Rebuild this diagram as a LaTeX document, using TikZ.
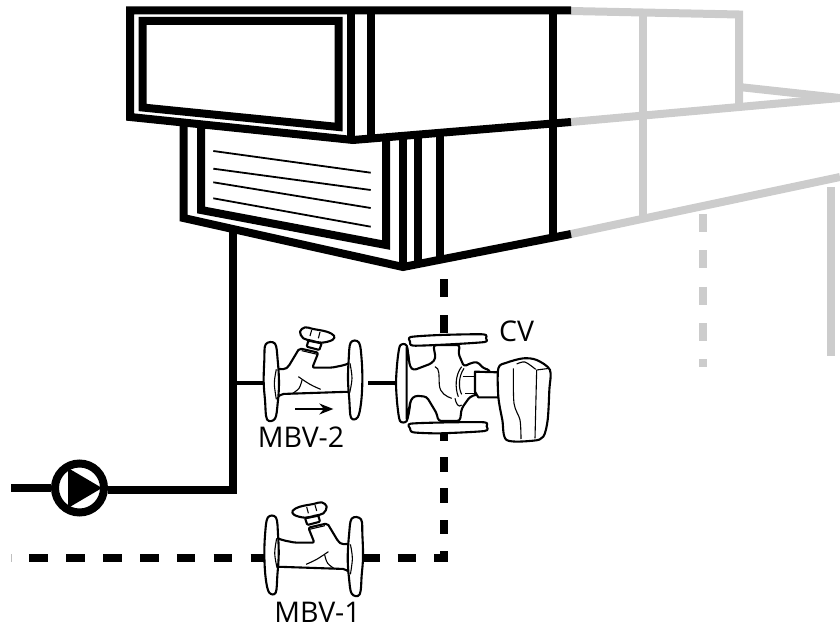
\documentclass[tikz,border=0pt]{standalone}
\usepackage{fontspec}
\setmainfont{Open Sans}
\usetikzlibrary{arrows.meta}
\definecolor{fade}{gray}{0.8}
\tikzset{
  frame/.style={line width=8pt,black,line join=miter},
  ghost/.style={line width=8pt,fade,line join=miter},
  slat/.style={line width=1.8pt,black},
  pipe/.style={line width=8pt,black},
  thinpipe/.style={line width=3.5pt,black},
  part/.style={line width=2.1pt,black,fill=white,line join=round},
  detail/.style={line width=1.1pt,black,line join=round},
  lab/.style={font=\fontsize{28.5}{28.5}\selectfont,inner sep=0pt,text=black},
  zoomed/.style={x=0.33333pt,y=-0.33333pt}
}
% balancing valve, drawn in crop units (3 units = 1 px)
\newcommand{\balvalve}{%
  \draw[part,rounded corners=2pt] (62,146) -- (90,148) -- (100,140) -- (133,85) -- (190,98) -- (172,143) -- (230,143) -- (265,136) -- (288,128) -- (288,215) -- (80,222) -- (62,236) -- cycle;
  \draw[part] plot[smooth cycle,tension=0.6] coordinates {(32,73) (60,71) (68,120) (72,190) (68,250) (60,296) (36,298) (30,240) (26,185) (28,120)};
  \draw[part] plot[smooth cycle,tension=0.6] coordinates {(287,68) (312,68) (320,120) (322,185) (318,250) (308,292) (288,293) (283,240) (279,180) (281,120)};
  \draw[detail] plot[smooth,tension=0.6] coordinates {(64,148) (58,190) (64,238)};
  \draw[detail] plot[smooth,tension=0.6] coordinates {(285,130) (291,175) (284,218)};
  \draw[detail] plot[smooth,tension=0.6] coordinates {(130,170) (165,193) (197,208)};
  \draw[detail] plot[smooth,tension=0.6] coordinates {(141,180) (132,205) (110,222)};
  \draw[part,rounded corners=1pt] (160,62) -- (155,80) -- (193,90) -- (200,70) -- cycle;
  \draw[detail] (140,92) -- (187,103);
  \draw[part] plot[smooth cycle,tension=0.6] coordinates {(135,35) (150,22) (175,27) (215,35) (237,47) (232,60) (200,68) (170,62) (145,55)};
  \draw[detail] (170,30) -- (165,48) (195,36) -- (190,55);
}
\begin{document}
\begin{tikzpicture}[x=1pt,y=-1pt]
\useasboundingbox (0,0) rectangle (840,628);
% faded continuation
\draw[ghost] (571,11) -- (739,14.5) -- (739,106);
\draw[ghost] (739,87) -- (840,98);
\draw[ghost] (571,122) -- (840,98);
\draw[ghost] (571,234) -- (840,177);
\draw[ghost] (642.5,11) -- (642.5,218);
\draw[ghost] (831,187) -- (831,356);
\foreach \a in {214,250.4,286.8,323}{\draw[ghost] (702.5,\a) -- (702.5,\a+18);}
\draw[ghost] (702.5,359) -- (702.5,367);
% black unit
\draw[frame] (571,10.5) -- (130,10.5) -- (130,117) -- (353,140) -- (571,122);
\draw[frame] (142.5,21) -- (338.5,21) -- (338.5,127) -- (142.5,107.5) -- cycle;
\draw[frame] (350.5,10) -- (350.5,140);
\draw[frame] (370.5,10) -- (370.5,137);
\draw[frame] (552.5,10) -- (552.5,235);
\draw[frame] (183.5,122) -- (183.5,218) -- (403,267) -- (571,234);
\draw[frame] (201,127) -- (201,210) -- (386,245) -- (386,141);
\draw[frame] (402.7,138) -- (402.7,267);
\draw[frame] (418,137) -- (418,262);
\draw[frame] (440,136) -- (440,258);
\draw[slat] (213.3,151) -- (370.7,172.7);
\draw[slat] (213.3,168.7) -- (370.7,190);
\draw[slat] (213.3,182.3) -- (370.7,208);
\draw[slat] (213.3,198.3) -- (370.7,226.7);
% pump and pipes
\coordinate (supplyin) at (11,488);
\coordinate (elbow) at (232.5,490);
\coordinate (riser) at (232.5,232);
\coordinate (tee) at (232.5,383);
\coordinate (v2in) at (268,383);
\coordinate (v2out) at (368,383);
\coordinate (cvin) at (400,383);
\node[circle,draw=black,fill=white,line width=8pt,minimum size=49pt,inner sep=0pt] (pump) at (79.5,488) {};
\draw[pipe] (supplyin) -- (pump.west);
\draw[pipe] (pump.east |- elbow) -- (236.5,490);
\draw[pipe] (riser) -- (elbow);
\fill[black] (68,468) -- (102,488) -- (68,508) -- cycle;
\draw[thinpipe] (tee) -- (v2in);
\draw[thinpipe] (v2out) -- (cvin);
% return (dashed)
\fill[black!25] (11,554) rectangle (12,562);
\foreach \a in {29.3,66.2,103,140,176.8,213.7,250.6,361,397.5}{\draw[pipe] (\a,558) -- (\a+18.6,558);}
\draw[pipe] (434,558) -- (447.5,558);
\draw[pipe] (443.5,279) -- (443.5,297);
\draw[pipe] (443.5,315) -- (443.5,333);
\draw[pipe] (443.5,433) -- (443.5,441);
\draw[pipe] (443.5,457) -- (443.5,472);
\draw[pipe] (443.5,488) -- (443.5,503);
\draw[pipe] (443.5,520) -- (443.5,534);
\draw[pipe] (443.5,551) -- (443.5,562);
% MBV-2
\begin{scope}[shift={(255,320)},zoomed]
\balvalve
\draw[line width=1.7pt,-{Stealth[length=14pt,width=11pt]}] (120,267) -- (235,267);
\end{scope}
% MBV-1
\begin{scope}[shift={(371.7,495)},zoomed,xscale=-1]
\balvalve
\end{scope}
% control valve
\begin{scope}[shift={(390,325)},zoomed]
\draw[part] plot[smooth cycle,tension=0.45] coordinates {(50,62) (30,62) (22,110) (18,175) (22,240) (30,288) (50,288) (60,240) (63,175) (58,120)};
\draw[part,rounded corners=3pt] (50,62) -- (60,125) -- (70,136) -- (125,115) -- (137,100) -- (130,60) -- (210,60) -- (205,85) -- (222,125) -- (240,115) -- (262,110) -- (280,130) -- (300,135) -- (300,215) -- (280,215) -- (262,208) -- (240,215) -- (215,250) -- (210,288) -- (145,288) -- (140,265) -- (110,215) -- (75,212) -- (62,225) -- (50,288) -- cycle;
\draw[part] plot[smooth cycle,tension=0.4] coordinates {(62,36) (150,30) (280,28) (288,40) (284,51) (180,58) (70,62) (60,50)};
\draw[part] plot[smooth cycle,tension=0.4] coordinates {(62,296) (180,292) (284,292) (290,304) (284,318) (150,325) (70,322) (60,310)};
\draw[detail] (135,125) .. controls (150,130) and (146,150) .. (148,180) .. controls (150,205) and (170,215) .. (185,220);
\draw[detail] (215,125) .. controls (195,150) and (195,190) .. (205,215);
\draw[detail] (222,130) .. controls (205,155) and (205,190) .. (215,208);
\draw[detail] (195,220) .. controls (198,235) and (205,250) .. (215,240);
\draw[detail] (218,155) -- (255,155) (255,140) -- (255,208) (255,140) -- (300,140) (225,205) -- (255,205);
\begin{scope}[shift={(240,45)}]
\draw[part] (15,95) -- (85,97) -- (85,172) -- (25,172) -- (15,155) -- cycle;
\draw[part] plot[smooth cycle,tension=0.5] coordinates {(85,85) (110,68) (160,55) (200,60) (240,90) (238,150) (233,240) (220,290) (190,302) (110,300) (97,240) (85,170)};
\draw[detail] plot[smooth,tension=0.5] coordinates {(130,85) (132,190) (150,240) (153,297)};
\draw[detail] plot[smooth,tension=0.5] coordinates {(140,72) (165,66) (197,88)};
\draw[detail] (200,90) -- (195,295) (200,90) -- (238,85);
\end{scope}
\end{scope}
% labels
\node[lab] (lblcv) at (516.5,331) {CV};
\node[lab] (lblm2) at (301,437) {MBV-2};
\node[lab] (lblm1) at (317.5,612) {MBV-1};
\end{tikzpicture}
\end{document}
